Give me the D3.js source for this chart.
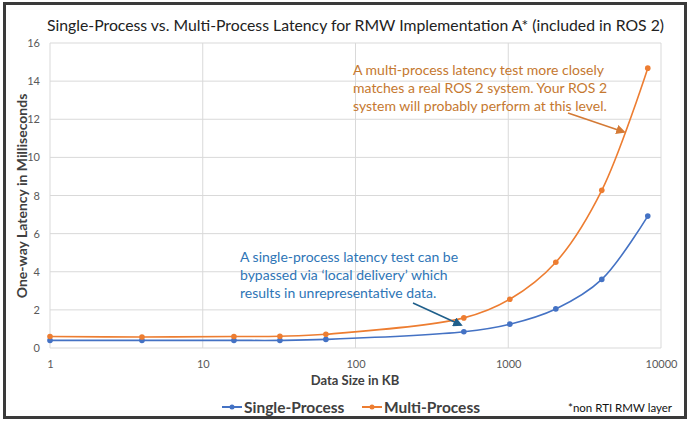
<!DOCTYPE html>
<html><head><meta charset="utf-8">
<script src="https://cdn.jsdelivr.net/npm/d3@7"></script>
<style>body{margin:0;background:#fff}svg{display:block}</style>
</head><body>
<svg id="c" width="690" height="422"></svg>
<script>
const dataSizes = [1, 4, 16, 32, 64, 512, 1024, 2048, 4096, 8192];
const singleProcess = [0.4, 0.4, 0.4, 0.4, 0.45, 0.85, 1.25, 2.05, 3.6, 6.92];
const multiProcess = [0.6, 0.58, 0.6, 0.62, 0.72, 1.58, 2.56, 4.5, 8.27, 14.68];
const xTicks = [1, 10, 100, 1000, 10000];
const yTicks = [0, 2, 4, 6, 8, 10, 12, 14, 16];
const seriesNames = ["Single-Process", "Multi-Process"];
const colors = ["#4472C4", "#ED7D31"];
const title = "Single-Process vs. Multi-Process Latency for RMW Implementation A* (included in ROS 2)";
const orangeNote = ["A multi-process latency test more closely", "matches a real ROS 2 system. Your ROS 2", "system will probably perform at this level."];
const blueNote = ["A single-process latency test can be", "bypassed via \u2018local delivery\u2019 which", "results in unrepresentative data."];

const font = "Lato, 'Open Sans', sans-serif";
const svg = d3.select("#c");
const x = d3.scaleLog().domain([1, 10000]).range([50, 661]);
const y = d3.scaleLinear().domain([0, 16]).range([348, 43]);

// outer frame
svg.append("rect").attr("x", 4.5).attr("y", 3.5).attr("width", 681).attr("height", 414)
  .attr("fill", "none").attr("stroke", "#3a3a3a").attr("stroke-width", 3);

// gridlines
const g = svg.append("g");
g.selectAll(".hg").data(yTicks).join("line")
  .attr("x1", 50).attr("x2", 661).attr("y1", d => y(d)).attr("y2", d => y(d))
  .attr("stroke", "#d9d9d9").attr("stroke-width", 1);
g.selectAll(".vg").data(xTicks).join("line")
  .attr("y1", y(0)).attr("y2", y(16)).attr("x1", d => x(d)).attr("x2", d => x(d))
  .attr("stroke", "#d9d9d9").attr("stroke-width", 1);

// axes
const yAxis = d3.axisLeft(y).tickValues(yTicks).tickSize(0).tickPadding(10);
svg.append("g").attr("transform", "translate(50,0)").call(yAxis)
  .call(s => s.select(".domain").remove())
  .selectAll("text").attr("fill", "#595959").style("font-size", "11px").style("font-family", font);
const xAxis = d3.axisBottom(x).tickValues(xTicks).tickFormat(d3.format("d")).tickSize(0).tickPadding(12);
svg.append("g").attr("transform", `translate(0,${y(0)})`).call(xAxis)
  .call(s => s.select(".domain").remove())
  .selectAll("text").attr("fill", "#595959").style("font-size", "11px").style("font-family", font);

// title
svg.append("text").attr("x", 47).attr("y", 31)
  .attr("textLength", 617).attr("lengthAdjust", "spacingAndGlyphs")
  .attr("fill", "#222").style("font-size", "16px").style("font-family", font).text(title);
// axis titles
svg.append("text").attr("transform", "translate(27,196) rotate(-90)").attr("text-anchor", "middle")
  .attr("fill", "#404040").style("font-size", "14px").style("font-weight", "bold").style("font-family", font)
  .text("One-way Latency in Milliseconds");
svg.append("text").attr("x", 355).attr("y", 385).attr("text-anchor", "middle")
  .attr("fill", "#404040").style("font-size", "13px").style("font-weight", "bold").style("font-family", font)
  .text("Data Size in KB");

// series
const series = [singleProcess, multiProcess];
const line = d3.line().x(d => x(d[0])).y(d => y(d[1])).curve(d3.curveCatmullRom.alpha(0.5));
series.forEach((vals, i) => {
  const pts = dataSizes.map((s, j) => [s, vals[j]]);
  svg.append("path").datum(pts).attr("d", line).attr("fill", "none")
    .attr("stroke", colors[i]).attr("stroke-width", 1.6);
  svg.append("g").selectAll("circle").data(pts).join("circle")
    .attr("cx", d => x(d[0])).attr("cy", d => y(d[1])).attr("r", 2.8).attr("fill", colors[i]);
});

// arrow markers
const defs = svg.append("defs");
[["ao", "#D47A35"], ["ab", "#1F5F8B"]].forEach(([id, c]) => {
  defs.append("marker").attr("id", id).attr("viewBox", "0 0 10 10").attr("refX", 8).attr("refY", 5)
    .attr("markerWidth", 6).attr("markerHeight", 6).attr("orient", "auto")
    .append("path").attr("d", "M0,0 L10,5 L0,10 z").attr("fill", c);
});

// annotations
svg.append("g").selectAll("text").data(orangeNote).join("text")
  .attr("x", 353).attr("y", (d, i) => 75 + i * 18).attr("fill", "#C5782F")
  .style("font-size", "14px").style("font-family", font).text(d => d);
svg.append("line").attr("x1", 568).attr("y1", 113).attr("x2", 624).attr("y2", 132)
  .attr("stroke", "#D47A35").attr("stroke-width", 1.6).attr("marker-end", "url(#ao)");
svg.append("g").selectAll("text").data(blueNote).join("text")
  .attr("x", 240).attr("y", (d, i) => 262 + i * 18).attr("fill", "#2E75B6")
  .style("font-size", "14px").style("font-family", font).text(d => d);
svg.append("line").attr("x1", 413).attr("y1", 303).attr("x2", 461).attr("y2", 325)
  .attr("stroke", "#1F5F8B").attr("stroke-width", 1.6).attr("marker-end", "url(#ab)");

// legend
const leg = svg.append("g");
[[222, 0], [362, 1]].forEach(([lx, i]) => {
  leg.append("line").attr("x1", lx).attr("x2", lx + 20).attr("y1", 407).attr("y2", 407)
    .attr("stroke", colors[i]).attr("stroke-width", 2);
  leg.append("circle").attr("cx", lx + 10).attr("cy", 407).attr("r", 2.5).attr("fill", colors[i]);
  leg.append("text").attr("x", lx + 22).attr("y", 413).attr("fill", "#404040")
    .style("font-size", "15.5px").style("font-weight", "bold").style("font-family", font).text(seriesNames[i]);
});
svg.append("text").attr("x", 672).attr("y", 412).attr("text-anchor", "end").attr("fill", "#111")
  .style("font-size", "11.5px").style("font-family", font).text("*non RTI RMW layer");
</script>
</body></html>
